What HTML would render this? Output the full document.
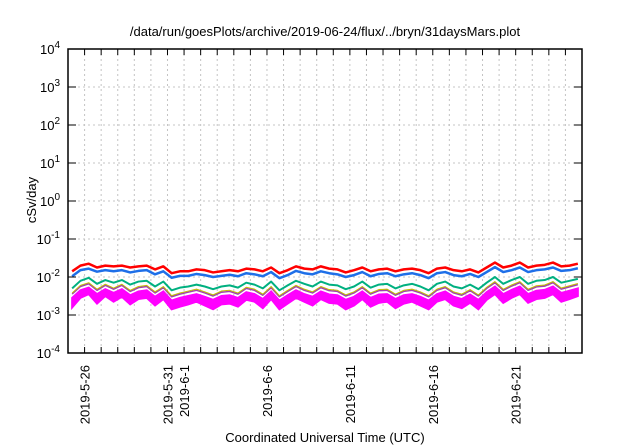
<!DOCTYPE html>
<html><head><meta charset="utf-8"><style>
body{margin:0;background:#fff;}
svg{display:block;font-family:"Liberation Sans",sans-serif;}
</style></head><body>
<svg id="c" width="640" height="448">
<text x="325" y="36" font-size="13" text-anchor="middle">/data/run/goesPlots/archive/2019-06-24/flux/../bryn/31daysMars.plot</text>
<text x="325" y="442" font-size="13" text-anchor="middle">Coordinated Universal Time (UTC)</text>
<text transform="translate(36,200) rotate(-90)" font-size="13" text-anchor="middle">cSv/day</text>
<g id="grid"></g><g id="series"></g><g id="axes"></g>
</svg>
<script>
const yExps=[-4,-3,-2,-1,0,1,2,3,4];
const xLabels=["2019-5-26","2019-5-31","2019-6-1","2019-6-6","2019-6-11","2019-6-16","2019-6-21"];
const xLabelDays=[1,6,7,12,17,22,27];
const red=[-1.85,-1.70,-1.65,-1.75,-1.70,-1.72,-1.70,-1.75,-1.72,-1.70,
 -1.80,-1.72,-1.90,-1.85,-1.85,-1.80,-1.82,-1.88,-1.85,-1.82,
 -1.85,-1.78,-1.80,-1.85,-1.75,-1.90,-1.82,-1.72,-1.78,-1.80,
 -1.72,-1.78,-1.80,-1.88,-1.82,-1.75,-1.85,-1.80,-1.78,-1.85,
 -1.80,-1.78,-1.82,-1.90,-1.78,-1.75,-1.82,-1.85,-1.80,-1.88,
 -1.75,-1.62,-1.75,-1.70,-1.62,-1.75,-1.70,-1.68,-1.62,-1.72,-1.70,-1.65];
const blue=[-1.98,-1.82,-1.78,-1.86,-1.82,-1.85,-1.82,-1.88,-1.84,-1.82,
 -1.93,-1.85,-2.02,-1.97,-1.97,-1.92,-1.95,-2.00,-1.97,-1.94,
 -1.98,-1.90,-1.93,-1.98,-1.87,-2.03,-1.95,-1.84,-1.90,-1.93,
 -1.85,-1.90,-1.93,-2.00,-1.95,-1.87,-1.98,-1.92,-1.90,-1.98,
 -1.93,-1.90,-1.95,-2.03,-1.90,-1.87,-1.95,-1.98,-1.92,-2.00,
 -1.87,-1.74,-1.87,-1.82,-1.75,-1.87,-1.82,-1.80,-1.75,-1.84,-1.82,-1.77];
const green=[-2.30,-2.10,-2.02,-2.18,-2.08,-2.15,-2.08,-2.20,-2.12,-2.10,
 -2.25,-2.12,-2.35,-2.28,-2.25,-2.20,-2.25,-2.32,-2.25,-2.22,
 -2.28,-2.15,-2.20,-2.30,-2.12,-2.35,-2.22,-2.10,-2.18,-2.25,
 -2.12,-2.20,-2.22,-2.32,-2.25,-2.12,-2.28,-2.20,-2.18,-2.30,
 -2.22,-2.18,-2.25,-2.35,-2.18,-2.12,-2.25,-2.30,-2.20,-2.32,
 -2.15,-2.00,-2.18,-2.08,-2.00,-2.18,-2.10,-2.08,-2.00,-2.15,-2.10,-2.05];
const purple=[-2.45,-2.25,-2.18,-2.35,-2.22,-2.32,-2.22,-2.38,-2.28,-2.25,
 -2.42,-2.28,-2.52,-2.45,-2.40,-2.35,-2.42,-2.50,-2.40,-2.38,
 -2.45,-2.30,-2.35,-2.48,-2.28,-2.52,-2.38,-2.25,-2.35,-2.42,
 -2.28,-2.36,-2.38,-2.50,-2.42,-2.28,-2.45,-2.36,-2.35,-2.48,
 -2.38,-2.35,-2.42,-2.52,-2.35,-2.28,-2.42,-2.48,-2.36,-2.50,
 -2.30,-2.15,-2.35,-2.24,-2.15,-2.35,-2.26,-2.24,-2.15,-2.32,-2.26,-2.20];
const magenta=[-2.55,-2.35,-2.28,-2.45,-2.32,-2.42,-2.32,-2.48,-2.38,-2.35,
 -2.52,-2.38,-2.62,-2.55,-2.50,-2.45,-2.52,-2.60,-2.50,-2.48,
 -2.55,-2.40,-2.45,-2.58,-2.38,-2.62,-2.48,-2.35,-2.45,-2.52,
 -2.38,-2.46,-2.48,-2.60,-2.52,-2.38,-2.55,-2.46,-2.45,-2.58,
 -2.48,-2.45,-2.52,-2.62,-2.45,-2.38,-2.52,-2.58,-2.46,-2.60,
 -2.40,-2.25,-2.45,-2.34,-2.25,-2.45,-2.36,-2.34,-2.25,-2.42,-2.36,-2.30];
const magentaLow=[-2.80,-2.55,-2.45,-2.70,-2.50,-2.65,-2.52,-2.72,-2.58,-2.55,
 -2.75,-2.58,-2.85,-2.78,-2.72,-2.65,-2.75,-2.85,-2.72,-2.70,
 -2.78,-2.60,-2.65,-2.82,-2.58,-2.85,-2.70,-2.55,-2.65,-2.75,
 -2.58,-2.68,-2.70,-2.85,-2.75,-2.58,-2.78,-2.68,-2.65,-2.82,
 -2.70,-2.65,-2.75,-2.85,-2.65,-2.58,-2.75,-2.82,-2.68,-2.85,
 -2.60,-2.45,-2.68,-2.55,-2.45,-2.68,-2.58,-2.55,-2.45,-2.65,-2.58,-2.50];
const L=68,R=582,T=49,B=353,DAYS=31;
const NS='http://www.w3.org/2000/svg';
const xs=d=>L+d*(R-L)/DAYS;
const ys=v=>T+(4-v)*(B-T)/8;
function mk(tag,attrs,parent){const e=document.createElementNS(NS,tag);for(const k in attrs)e.setAttribute(k,attrs[k]);document.getElementById(parent).appendChild(e);return e;}
for(const e of yExps){
  const y=ys(e);
  if(e>-4&&e<4){const g=mk('line',{x1:L,x2:R,y1:y,y2:y,stroke:'#c4c4c4','stroke-dasharray':'2,3','stroke-width':1},'grid');
  
  }
  const t=mk('text',{x:L-8,y:y+5,'font-size':13,'text-anchor':'end'},'axes');
  t.innerHTML='10<tspan dy="-6" font-size="10">'+e+'</tspan>';
  
  
  mk('line',{x1:L,x2:L+8,y1:y,y2:y,stroke:'#000'},'axes');
  mk('line',{x1:R,x2:R-8,y1:y,y2:y,stroke:'#000'},'axes');
}
for(let d=1;d<DAYS;d++){
  const x=xs(d);
  const g=mk('line',{x1:x,x2:x,y1:T,y2:B,stroke:'#c4c4c4','stroke-dasharray':'2,3'},'grid');
  
  
  mk('line',{x1:x,x2:x,y1:B,y2:B-6,stroke:'#000'},'axes');
  mk('line',{x1:x,x2:x,y1:T,y2:T+6,stroke:'#000'},'axes');
}
xLabels.forEach((s,i)=>{
  const x=xs(xLabelDays[i]);
  const t=mk('text',{transform:`translate(${x+5},${B+12}) rotate(-90)`,'font-size':13,'text-anchor':'end'},'axes');
  t.textContent=s;
  
  
});
const fr=mk('rect',{x:L,y:T,width:R-L,height:B-T,fill:'none',stroke:'#000','stroke-width':1.5},'axes');


function pts(a){return a.map((v,i)=>xs((i+0.5)*DAYS/a.length)+','+ys(v)).join(' ');}
const band=mk('polygon',{points:pts(magenta)+' '+pts(magentaLow).split(' ').reverse().join(' '),fill:'#ff00ff',stroke:'#ff00ff','stroke-width':2},'series');


const specs=[[purple,'#a040b0',1.5,'purple-line'],
 [purple.map(v=>v+0.03),'#c0c000',1,'yellow-line'],[green,'#00b080',2,'green-line'],[blue,'#1e6fe8',2.5,'blue-line'],[red,'#ff0000',2.5,'red-line']];
for(const [a,c,w,n] of specs){
  const p=mk('polyline',{points:pts(a),fill:'none',stroke:c,'stroke-width':w,'stroke-linejoin':'round'},'series');
  
  
}
</script>
</body></html>
